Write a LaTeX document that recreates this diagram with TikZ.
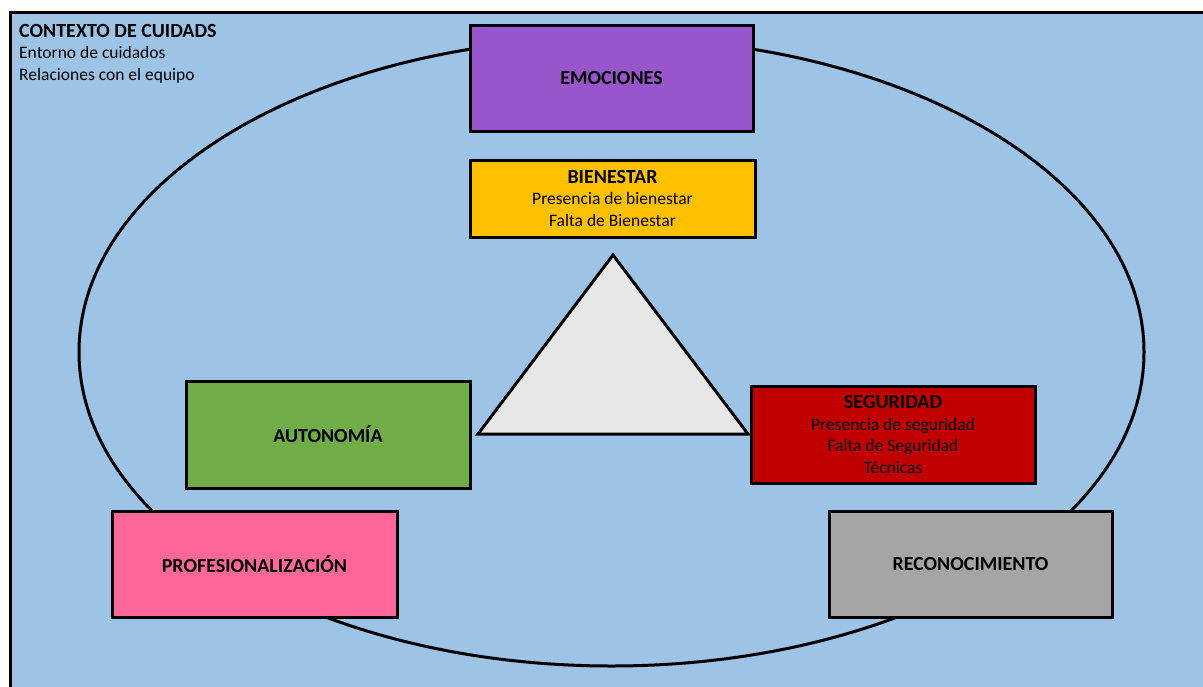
\documentclass[tikz,border=0pt]{standalone}
\usepackage{fontspec}
\setmainfont{Carlito}
\usepackage{xcolor}
\usepackage{tikz}
\usetikzlibrary{calc}

\definecolor{fondo}{HTML}{9DC3E6}
\definecolor{morado}{HTML}{9955CC}
\definecolor{ambar}{HTML}{FFC000}
\definecolor{verde}{HTML}{70AD47}
\definecolor{rojo}{HTML}{C00000}
\definecolor{rosa}{HTML}{FF6699}
\definecolor{gris}{HTML}{A5A5A5}
\definecolor{grisclaro}{HTML}{E7E6E6}

\begin{document}
\begin{tikzpicture}[x=1pt,y=-1pt,
        caja/.style={draw=black,line width=3pt,rectangle,align=center,inner sep=0pt,
            font=\fontsize{17.5}{21.5}\selectfont},
        titulo/.style={font=\fontsize{20}{21.5}\selectfont\bfseries}]
        \useasboundingbox (0,0) rectangle (1203,686);

        % fondo: contexto de cuidados
        \draw[fill=fondo,line width=3pt] (10,12) rectangle (1230,720);
        \node[anchor=north west,align=left,inner sep=0pt,font=\fontsize{17.5}{21.5}\selectfont] (contexto) at (19,24)
            {{\fontsize{20}{21.5}\selectfont\bfseries CONTEXTO DE CUIDADS}\\Entorno de cuidados\\Relaciones con el equipo};

        % elipse
        \draw[line width=3pt] (611.5,352) ellipse (532.5 and 314);

        % cajas
        \node[caja,titulo,fill=morado,minimum width=283,minimum height=106] (emociones) at (611.5,78)
            {EMOCIONES};
        \node[caja,fill=ambar,minimum width=285,minimum height=77] (bienestar) at (612.5,198.5)
            {{\fontsize{20}{21.5}\selectfont\bfseries BIENESTAR}\\Presencia de bienestar\\Falta de Bienestar};
        \node[caja,titulo,fill=verde,minimum width=284,minimum height=107] (autonomia) at (328,434.5)
            {AUTONOMÍA};
        \node[caja,fill=rojo,minimum width=284,minimum height=97] (seguridad) at (893,434.5)
            {{\fontsize{20}{21.5}\selectfont\bfseries SEGURIDAD}\\Presencia de seguridad\\Falta de Seguridad\\Técnicas};
        \node[caja,titulo,fill=rosa,minimum width=285,minimum height=106] (profes) at (254.5,564)
            {PROFESIONALIZACIÓN};
        \node[caja,titulo,fill=gris,minimum width=283,minimum height=106] (reconoc) at (970.5,564)
            {RECONOCIMIENTO};

        % triangulo central
        \coordinate (vsup) at (613,255);
        \coordinate (vizq) at (478,434);
        \coordinate (vder) at (748,434);
        \draw[fill=grisclaro,line width=3pt,line join=miter] (vsup) -- (vizq) -- (vder) -- cycle;
\end{tikzpicture}
\end{document}
